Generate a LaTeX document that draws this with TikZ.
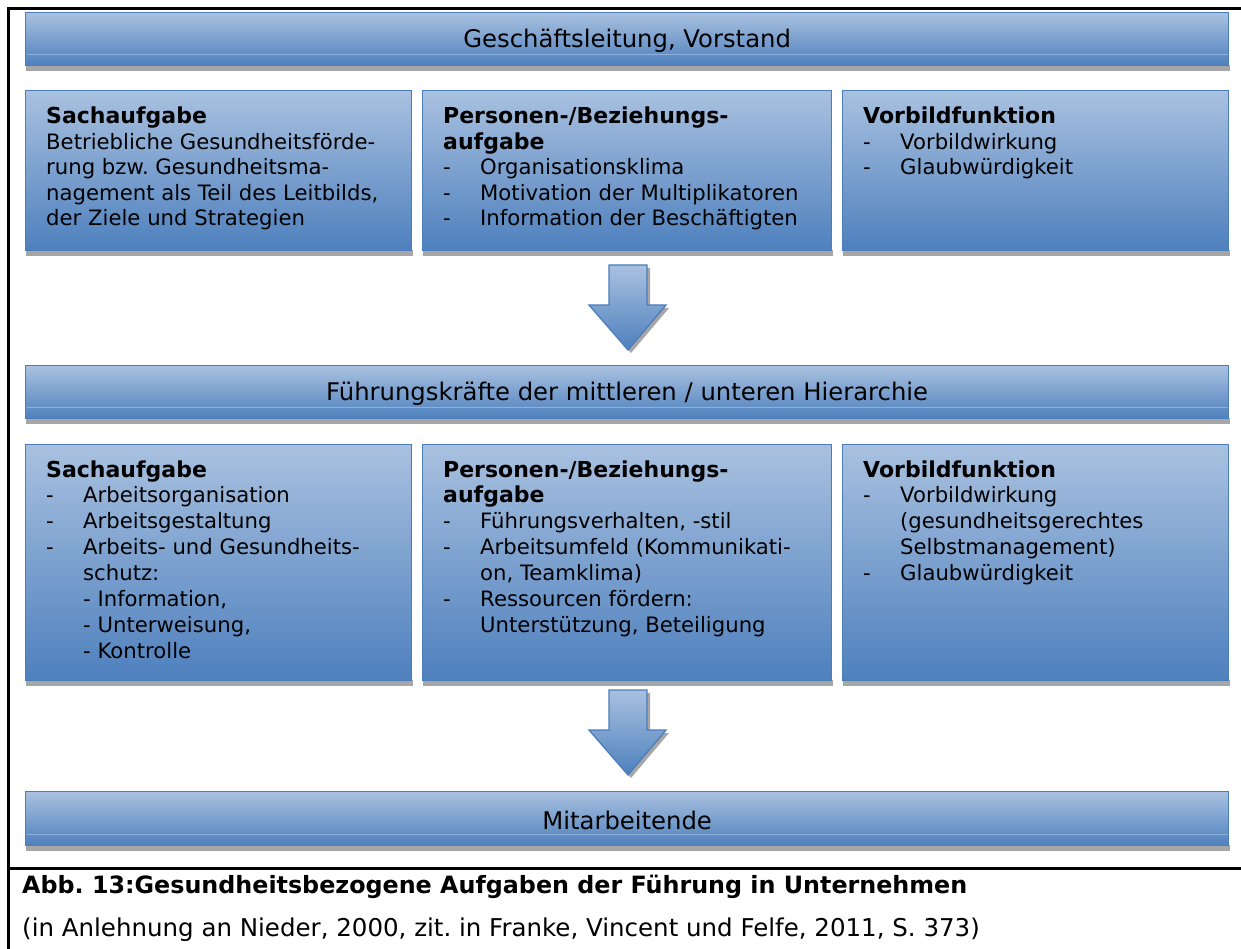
\documentclass[tikz,border=0pt]{standalone}
\usepackage{fontspec}
\setmainfont{DejaVu Sans}
\usetikzlibrary{calc}
\frenchspacing
\definecolor{btop}{HTML}{A9C1E0}
\definecolor{bbot}{HTML}{4E80BD}
\definecolor{bdr}{HTML}{4A7EBB}
\definecolor{shd}{HTML}{A6A6A6}
\definecolor{bev}{HTML}{8FB0DA}
\tikzset{
  panel/.style={draw=bdr, line width=1.3pt, top color=btop, bottom color=bbot, inner sep=0pt, anchor=north west},
  bartxt/.style={font=\fontsize{24.3}{28}\selectfont, inner sep=0pt, yshift=-2pt},
  boxtxt/.style={font=\fontsize{21.2}{25.5}\selectfont, inner sep=0pt, anchor=base west},
  boxtxtb/.style={font=\fontsize{21.2}{25.9}\selectfont, inner sep=0pt, anchor=base west},
  frame/.style={line width=3pt, black},
  bigarrow/.style={draw=bdr, line width=1.3pt, top color=btop, bottom color=bbot, line join=miter},
}
\newcommand\mypanel[5]{%
  \fill[shd] (#2+1,#3+#5) rectangle ++(#4+1,6);
  \node[panel, minimum width=#4pt, minimum height=#5pt] (#1) at (#2,#3) {};}
\newcommand\mybevel[1]{\draw[bev, line width=1pt] ($(#1.south west)+(1.5,-12)$) -- ($(#1.south east)+(-1.5,-12)$);}
\newcommand\itemdash{\makebox[37pt][l]{-}}
\newcommand\myind{\hspace*{37pt}}
\newcommand\hd[1]{{\fontsize{22}{25.5}\selectfont\bfseries #1}}
\newcommand\bigdown[2]{%
  \fill[shd] (#1+3,#2+3) -- ++(38,0) -- ++(0,40) -- ++(19,0) -- ++(-38,45) -- ++(-39,-45) -- ++(20,0) -- cycle;
  \draw[bigarrow] (#1,#2) -- ++(38,0) -- ++(0,40) -- ++(19,0) -- ++(-38,45) -- ++(-39,-45) -- ++(20,0) -- cycle;}
\begin{document}
\begin{tikzpicture}[x=1pt,y=-1pt]
\useasboundingbox (0,0) rectangle (1241,949);
% frame
\coordinate (ftl) at (8,9);
\coordinate (ftr) at (1241,9);
\coordinate (fbl) at (8,949);
\coordinate (fml) at (8,868);
\coordinate (fmr) at (1241,868);
\draw[frame] (fbl) -- (ftl) -- (ftr);
\draw[frame] (fml) -- (fmr);
% bars
\mypanel{bar1}{25}{12}{1203}{53}
\mybevel{bar1}
\node[bartxt] (bar1t) at (bar1.center) {Geschäftsleitung, Vorstand};
\mypanel{bar2}{25}{365}{1203}{53}
\mybevel{bar2}
\node[bartxt] (bar2t) at (bar2.center) {Führungskräfte der mittleren / unteren Hierarchie};
\mypanel{bar3}{25}{791}{1203}{54}
\mybevel{bar3}
\node[bartxt] (bar3t) at (bar3.center) {Mitarbeitende};
% row 1
\mypanel{a1}{25}{90}{386}{160}
\mypanel{a2}{422}{90}{409}{160}
\mypanel{a3}{842}{90}{386}{160}
\node[boxtxt] (a1t) at (46,124) {\begin{tabular}[t]{@{}l@{}}\hd{Sachaufgabe}\\Betriebliche Gesundheitsförde-\\rung bzw. Gesundheitsma-\\nagement als Teil des Leitbilds,\\der Ziele und Strategien\end{tabular}};
\node[boxtxt] (a2t) at (443,124) {\begin{tabular}[t]{@{}l@{}}\hd{Personen-/Beziehungs-}\\\hd{aufgabe}\\\itemdash Organisationsklima\\\itemdash Motivation der Multiplikatoren\\\itemdash Information der Beschäftigten\end{tabular}};
\node[boxtxt] (a3t) at (863,124) {\begin{tabular}[t]{@{}l@{}}\hd{Vorbildfunktion}\\\itemdash Vorbildwirkung\\\itemdash Glaubwürdigkeit\end{tabular}};
% arrow 1
\bigdown{609}{265}
% row 2
\mypanel{b1}{25}{444}{386}{236}
\mypanel{b2}{422}{444}{409}{236}
\mypanel{b3}{842}{444}{386}{236}
\node[boxtxtb] (b1t) at (46,477) {\begin{tabular}[t]{@{}l@{}}\hd{Sachaufgabe}\\\itemdash Arbeitsorganisation\\\itemdash Arbeitsgestaltung\\\itemdash Arbeits- und Gesundheits-\\\myind schutz:\\\myind - Information,\\\myind - Unterweisung,\\\myind - Kontrolle\end{tabular}};
\node[boxtxtb] (b2t) at (443,477) {\begin{tabular}[t]{@{}l@{}}\hd{Personen-/Beziehungs-}\\\hd{aufgabe}\\\itemdash Führungsverhalten, -stil\\\itemdash Arbeitsumfeld (Kommunikati-\\\myind on, Teamklima)\\\itemdash Ressourcen fördern:\\\myind Unterstützung, Beteiligung\end{tabular}};
\node[boxtxtb] (b3t) at (863,477) {\begin{tabular}[t]{@{}l@{}}\hd{Vorbildfunktion}\\\itemdash Vorbildwirkung\\\myind (gesundheitsgerechtes\\\myind Selbstmanagement)\\\itemdash Glaubwürdigkeit\end{tabular}};
% arrow 2
\bigdown{609}{690}
% caption
\node[font=\fontsize{23.8}{28}\selectfont\bfseries, inner sep=0pt, anchor=base west] (cap1) at (22,893) {Abb. 13:Gesundheitsbezogene Aufgaben der Führung in Unternehmen};
\node[font=\fontsize{24.5}{28}\selectfont, inner sep=0pt, anchor=base west] (cap2) at (22,936) {(in Anlehnung an Nieder, 2000, zit. in Franke, Vincent und Felfe, 2011, S. 373)};
\end{tikzpicture}
\end{document}
